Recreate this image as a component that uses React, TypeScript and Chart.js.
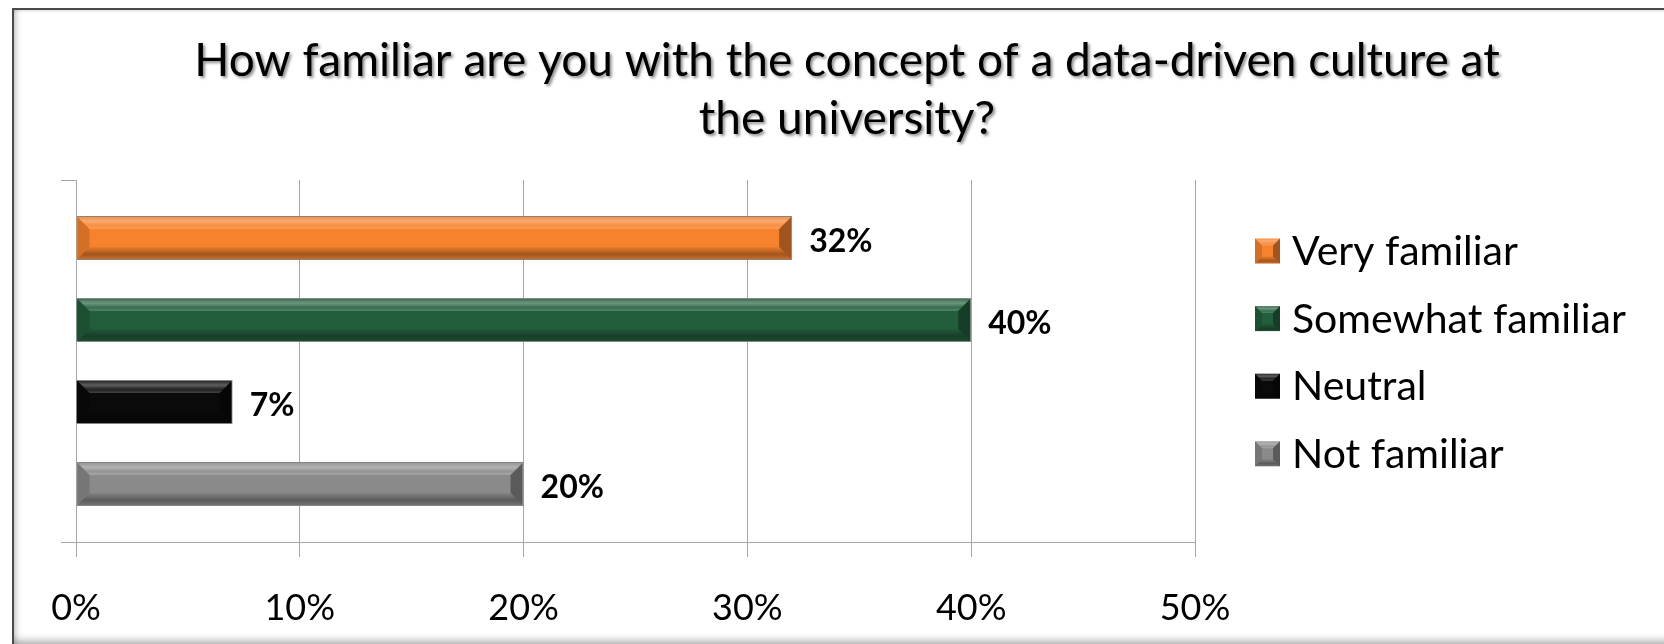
import React, { useEffect, useRef } from "react";
import { Chart, registerables } from "chart.js";

Chart.register(...registerables);

const titleLines = [
  "How familiar are you with the concept of a data-driven culture at",
  "the university?",
];
const categories = ["Familiarity"];
const seriesNames = ["Very familiar", "Somewhat familiar", "Neutral", "Not familiar"];
const seriesValues = [0.32, 0.4, 0.07, 0.2];
const seriesColors = ["#F7822D", "#225E3B", "#0A0A0A", "#8A8A8A"];
const tickValues = [0, 0.1, 0.2, 0.3, 0.4, 0.5];
const tickLabels = ["0%", "10%", "20%", "30%", "40%", "50%"];

const FONT = "Lato, 'Open Sans', sans-serif";
const GRID = "#a6a6a6";

function poly(ctx: CanvasRenderingContext2D, pts: number[][], fill: any) {
  ctx.beginPath();
  ctx.moveTo(pts[0][0], pts[0][1]);
  for (let i = 1; i < pts.length; i++) ctx.lineTo(pts[i][0], pts[i][1]);
  ctx.closePath();
  ctx.fillStyle = fill;
  ctx.fill();
}

function bevel(ctx: CanvasRenderingContext2D, x0: number, y0: number, x1: number, y1: number, bw: number) {
  const b = Math.max(1, Math.min(bw, (x1 - x0) / 2, (y1 - y0) / 2));
  const gTop = ctx.createLinearGradient(0, y0, 0, y0 + b);
  gTop.addColorStop(0, "rgba(255,255,255,0.12)");
  gTop.addColorStop(0.35, "rgba(255,255,255,0.34)");
  gTop.addColorStop(0.7, "rgba(255,255,255,0.10)");
  gTop.addColorStop(1, "rgba(255,255,255,0.22)");
  poly(ctx, [[x0, y0], [x1, y0], [x1 - b, y0 + b], [x0 + b, y0 + b]], gTop);
  const gBot = ctx.createLinearGradient(0, y1 - b, 0, y1);
  gBot.addColorStop(0, "rgba(0,0,0,0.05)");
  gBot.addColorStop(0.6, "rgba(0,0,0,0.34)");
  gBot.addColorStop(1, "rgba(0,0,0,0.18)");
  poly(ctx, [[x0, y1], [x1, y1], [x1 - b, y1 - b], [x0 + b, y1 - b]], gBot);
  poly(ctx, [[x0, y0], [x0 + b, y0 + b], [x0 + b, y1 - b], [x0, y1]], "rgba(0,0,0,0.14)");
  poly(ctx, [[x1, y0], [x1 - b, y0 + b], [x1 - b, y1 - b], [x1, y1]], "rgba(0,0,0,0.35)");
}

const decorPlugin = {
  id: "decor",
  afterDatasetsDraw(chart: any) {
    const ctx: CanvasRenderingContext2D = chart.ctx;
    ctx.save();
    chart.data.datasets.forEach((ds: any, di: number) => {
      const meta = chart.getDatasetMeta(di);
      meta.data.forEach((el: any, i: number) => {
        const v = ds.data[i];
        if (v == null) return;
        const p = el.getProps(["x", "y", "base", "height"], true);
        const x0 = Math.min(p.base, p.x);
        const x1 = Math.max(p.base, p.x);
        const y0 = p.y - p.height / 2;
        const y1 = p.y + p.height / 2;
        bevel(ctx, x0 + 1, y0 + 1, x1 - 1, y1 - 1, 12);
        ctx.fillStyle = "#000";
        ctx.font = `bold 32px ${FONT}`;
        ctx.textAlign = "left";
        ctx.textBaseline = "alphabetic";
        ctx.fillText(`${Math.round(v * 100)}%`, x1 + 17, p.y + 14);
      });
    });
    ctx.restore();
  },
  afterDraw(chart: any) {
    const ctx: CanvasRenderingContext2D = chart.ctx;
    ctx.save();
    // title
    ctx.font = `46px ${FONT}`;
    ctx.textAlign = "center";
    ctx.textBaseline = "alphabetic";
    ctx.shadowColor = "rgba(0,0,0,0.45)";
    ctx.shadowBlur = 3;
    ctx.shadowOffsetX = 2;
    ctx.shadowOffsetY = 2;
    ctx.fillStyle = "#000";
    titleLines.forEach((t, i) => ctx.fillText(t, 847, 76 + i * 58));
    ctx.shadowColor = "transparent";
    ctx.shadowBlur = 0;
    ctx.shadowOffsetX = 0;
    ctx.shadowOffsetY = 0;
    // legend
    const lx = 1255;
    const ly0 = 251;
    const step = 67.6;
    const box = 25;
    chart.data.datasets.forEach((ds: any, di: number) => {
      const cy = ly0 + di * step;
      ctx.fillStyle = ds.backgroundColor;
      ctx.fillRect(lx, cy - box / 2, box, box);
      bevel(ctx, lx, cy - box / 2, lx + box, cy + box / 2, 7);
      ctx.fillStyle = "#000";
      ctx.font = `41px ${FONT}`;
      ctx.textAlign = "left";
      ctx.textBaseline = "alphabetic";
      ctx.fillText(ds.label, 1292, cy + 14);
    });
    ctx.restore();
  },
};

export default function App() {
  const ref = useRef<HTMLCanvasElement | null>(null);
  useEffect(() => {
    if (!ref.current) return;
    const datasets = seriesNames.map((name, i) => ({
      label: name,
      data: [seriesValues[i]],
      backgroundColor: seriesColors[i],
      borderColor: "rgba(120,120,120,0.9)",
      borderWidth: 1,
      categoryPercentage: 0.906,
      barPercentage: 0.537,
    }));
    const chart = new Chart(ref.current, {
      type: "bar",
      data: { labels: categories, datasets },
      plugins: [decorPlugin],
      options: {
        indexAxis: "y",
        animation: false,
        responsive: false,
        maintainAspectRatio: false,
        layout: { padding: { left: 61, right: 469, top: 180, bottom: 0 } },
        plugins: {
          legend: { display: false },
          title: { display: false },
          tooltip: { enabled: false },
        },
        scales: {
          x: {
            type: "linear",
            min: 0,
            max: 0.5,
            afterBuildTicks: (s: any) => {
              s.ticks = tickValues.map((v) => ({ value: v }));
            },
            afterFit: (s: any) => {
              s.height = 102;
            },
            grid: { color: GRID, lineWidth: 1, tickLength: 15, drawTicks: true },
            border: { display: true, color: GRID, width: 1 },
            ticks: {
              color: "#000",
              font: { family: FONT, size: 36 },
              padding: 30,
              maxRotation: 0,
              callback: (_v: any, idx: number) => tickLabels[idx],
            },
          },
          y: {
            type: "category",
            afterFit: (s: any) => {
              s.width = 15;
            },
            grid: { offset: true, drawOnChartArea: false, color: GRID, tickLength: 15 },
            border: { display: true, color: GRID, width: 1 },
            ticks: { display: false },
          },
        },
      },
    });
    return () => chart.destroy();
  }, []);
  return (
    <div style={{ position: "fixed", left: 0, top: 0, width: 1664, height: 644, background: "#fff", overflow: "hidden" }}>
      <div
        style={{
          position: "absolute",
          left: 12,
          top: 8,
          width: 1660,
          height: 640,
          boxSizing: "border-box",
          borderTop: "2px solid #4a4a4a",
          borderLeft: "2px solid #4a4a4a",
          borderRight: "1px solid #d8d8d8",
          boxShadow: "inset 0 -12px 10px -6px rgba(0,0,0,0.4), inset 6px 0 6px -4px rgba(0,0,0,0.22), inset 0 3px 3px -2px rgba(0,0,0,0.12)",
        }}
      />
      <canvas ref={ref} width={1664} height={644} style={{ position: "absolute", left: 0, top: 0, width: 1664, height: 644 }} />
    </div>
  );
}
